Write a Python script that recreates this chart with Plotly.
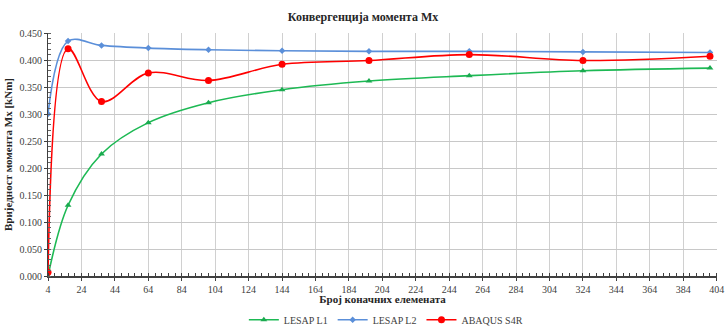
import plotly.graph_objects as go

elements = [4, 16, 36, 64, 100, 144, 196, 256, 324, 400]
lesap_l1 = [0.000, 0.131, 0.226, 0.284, 0.321, 0.345, 0.361, 0.371, 0.380, 0.385]
lesap_l2 = [0.300, 0.435, 0.427, 0.422, 0.419, 0.417, 0.416, 0.416, 0.415, 0.414]
abaqus_s4r = [0.007, 0.421, 0.323, 0.376, 0.362, 0.392, 0.399, 0.410, 0.399, 0.407]

x_ticks = list(range(4, 405, 20))
y_ticks = [i * 0.05 for i in range(10)]

FONT = "Liberation Serif, Times New Roman, serif"

fig = go.Figure()
fig.add_trace(go.Scatter(
    x=elements, y=lesap_l1, name="LESAP L1", mode="lines+markers",
    line=dict(color="#1db954", width=1.6, shape="spline", smoothing=1),
    marker=dict(symbol="triangle-up", size=6, color="#1aaa4f"),
))
fig.add_trace(go.Scatter(
    x=elements, y=lesap_l2, name="LESAP L2", mode="lines+markers",
    line=dict(color="#5b8fd9", width=1.6, shape="spline", smoothing=1),
    marker=dict(symbol="diamond", size=5, color="#5b8fd9"),
))
fig.add_trace(go.Scatter(
    x=elements, y=abaqus_s4r, name="ABAQUS S4R", mode="lines+markers",
    line=dict(color="#ff0000", width=1.6, shape="spline", smoothing=1),
    marker=dict(symbol="circle", size=7, color="#ff0000"),
))

fig.update_layout(
    width=726, height=327,
    margin=dict(l=48, r=9, t=33, b=51, autoexpand=False),
    paper_bgcolor="white", plot_bgcolor="white",
    font=dict(family=FONT, size=10, color="#404040"),
    title=dict(text="<b>Конвергенција момента Mx</b>", x=0.5, xanchor="center",
               y=0.948, yanchor="middle", font=dict(family=FONT, size=12, color="#262626")),
    legend=dict(orientation="h", x=0.505, xanchor="center", y=0.022, yref="container",
                yanchor="middle",
                font=dict(family=FONT, size=10, color="#404040"),
                itemwidth=30, traceorder="normal"),
    showlegend=True,
)
fig.update_xaxes(
    range=[3.99, 404.2], tickvals=x_ticks, ticktext=[str(v) for v in x_ticks],
    ticklabeloverflow="allow",
    showgrid=True, gridcolor="#d0d0d0", gridwidth=1,
    showline=True, linecolor="#404040", linewidth=1.5,
    ticks="outside", ticklen=3, tickcolor="#404040",
    minor=dict(dtick=4, tick0=4, ticks="inside", ticklen=3, tickcolor="#404040", showgrid=False),
    zeroline=False,
    tickfont=dict(family=FONT, size=10, color="#404040"),
    title=dict(text="<b>Број коначних елемената</b>", standoff=5,
               font=dict(family=FONT, size=11, color="#262626")),
)
fig.update_yaxes(
    range=[0, 0.45], tickvals=y_ticks, tickformat=".3f",
    showgrid=True, gridcolor="#c8c8c8", gridwidth=1,
    showline=True, linecolor="#404040", linewidth=1,
    ticks="outside", ticklen=3, tickcolor="#404040",
    minor=dict(dtick=0.01, ticks="inside", ticklen=3, tickcolor="#606060", showgrid=False),
    zeroline=False,
    tickfont=dict(family=FONT, size=10, color="#404040"),
    title=dict(text="<b>Вриједност момента Mx [kNm]</b>", standoff=4,
               font=dict(family=FONT, size=11, color="#262626")),
)

fig.write_html("out.html")
